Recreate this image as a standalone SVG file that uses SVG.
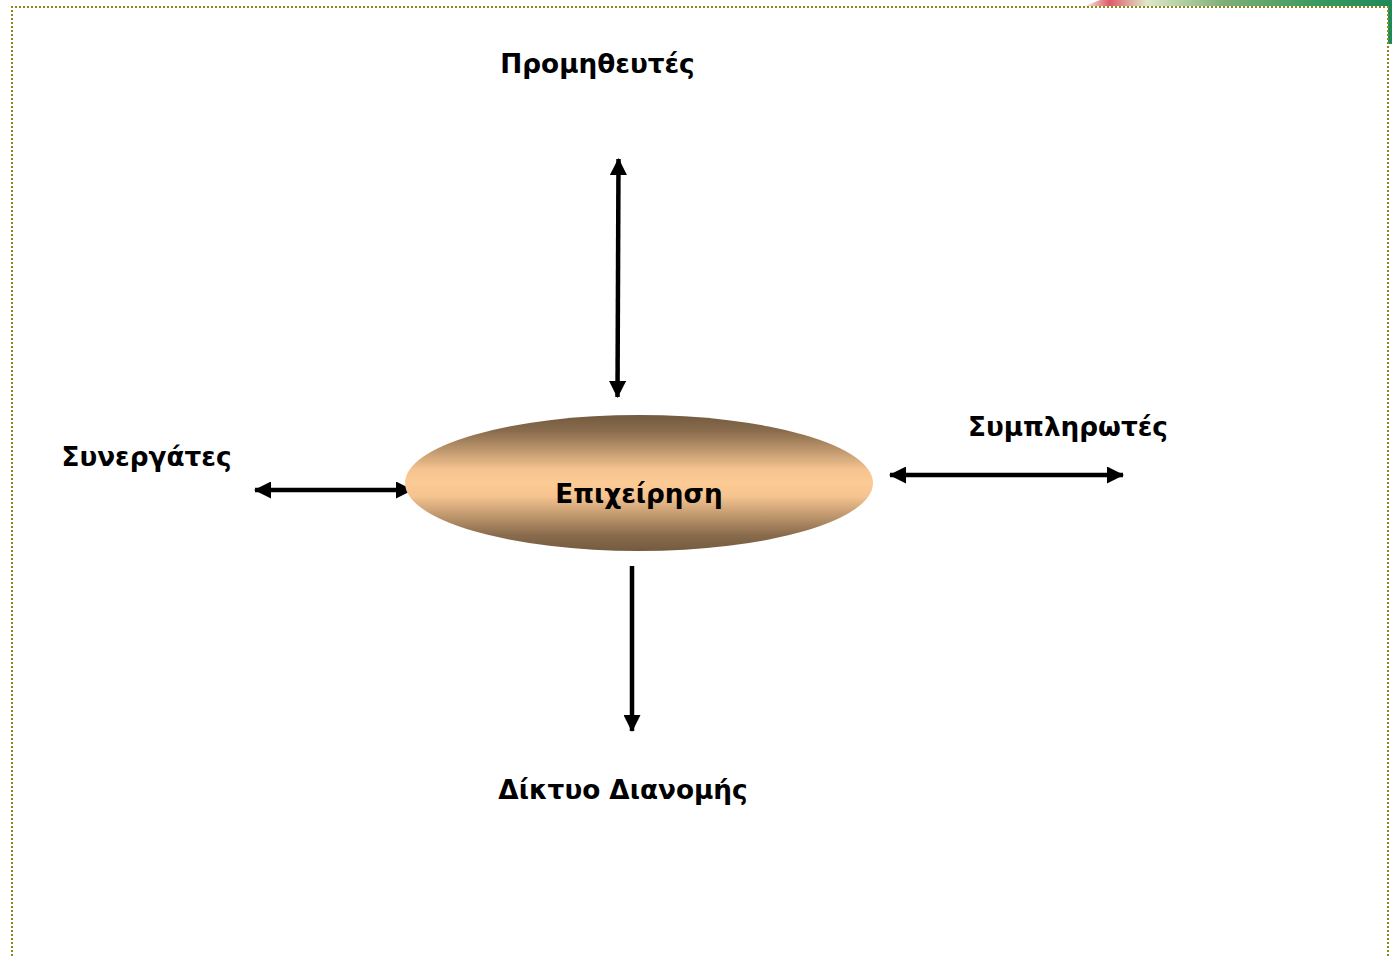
<svg xmlns="http://www.w3.org/2000/svg" width="1392" height="956" viewBox="0 0 1392 956">
<style>
.lbl{font-family:"DejaVu Sans",Verdana,sans-serif;font-weight:bold;font-size:26.3px;fill:#000}
.ln{stroke:#000;stroke-width:4.5;fill:none}
.border{stroke:#8a8a1a;stroke-width:2;stroke-dasharray:2 2;fill:none}
</style>
<defs>
<linearGradient id="eg" x1="0" y1="0" x2="0" y2="1">
<stop offset="0" stop-color="#735a40"/>
<stop offset="0.12" stop-color="#8a6c4d"/>
<stop offset="0.4" stop-color="#f4c38f"/>
<stop offset="0.5" stop-color="#fccb95"/>
<stop offset="0.6" stop-color="#f4c38f"/>
<stop offset="0.88" stop-color="#8a6c4d"/>
<stop offset="1" stop-color="#735a40"/>
</linearGradient>
<linearGradient id="tg" x1="0" y1="0" x2="1" y2="0">
<stop offset="0" stop-color="#f4f0e0"/>
<stop offset="0.08" stop-color="#e05a6a"/>
<stop offset="0.2" stop-color="#dfe8c8"/>
<stop offset="0.45" stop-color="#7fb07a"/>
<stop offset="0.75" stop-color="#3a9a60"/>
<stop offset="1" stop-color="#1e8a5a"/>
</linearGradient>
<marker id="ah" viewBox="0 0 17 17" refX="16" refY="8.5" markerWidth="17" markerHeight="17" markerUnits="userSpaceOnUse" orient="auto-start-reverse">
<path d="M0,0 L17,8.5 L0,17 z" fill="#000"/>
</marker>
</defs>
<rect width="1392" height="956" fill="#fff"/>
<path d="M1085,6 L1100,0 L1392,0 L1392,6 z" fill="url(#tg)"/>
<rect x="1388" y="0" width="4" height="44" fill="#1e8a5a"/>
<path class="border" d="M12,956 L12,7 L1388,7 L1388,956"/>
<g id="connectors">
<line class="ln" x1="617.5" y1="397" x2="618.5" y2="159" marker-start="url(#ah)" marker-end="url(#ah)"/>
<line class="ln" x1="255" y1="490" x2="412" y2="490" marker-start="url(#ah)" marker-end="url(#ah)"/>
<line class="ln" x1="890" y1="475" x2="1123" y2="475" marker-start="url(#ah)" marker-end="url(#ah)"/>
<line class="ln" x1="632" y1="566" x2="632" y2="731" marker-end="url(#ah)"/>
</g>
<g id="node-epixeirisi">
<ellipse cx="639" cy="483" rx="234" ry="68" fill="url(#eg)"/>
<text class="lbl" x="639" y="503" text-anchor="middle">Επιχείρηση</text>
</g>
<g id="node-promitheutes">
<text class="lbl" x="597.5" y="73" text-anchor="middle">Προμηθευτές</text>
</g>
<g id="node-synergates">
<text class="lbl" x="146.5" y="466" text-anchor="middle">Συνεργάτες</text>
</g>
<g id="node-symplirotes">
<text class="lbl" x="1068" y="436" text-anchor="middle">Συμπληρωτές</text>
</g>
<g id="node-diktyo">
<text class="lbl" x="623" y="799" text-anchor="middle">Δίκτυο Διανομής</text>
</g>
</svg>
